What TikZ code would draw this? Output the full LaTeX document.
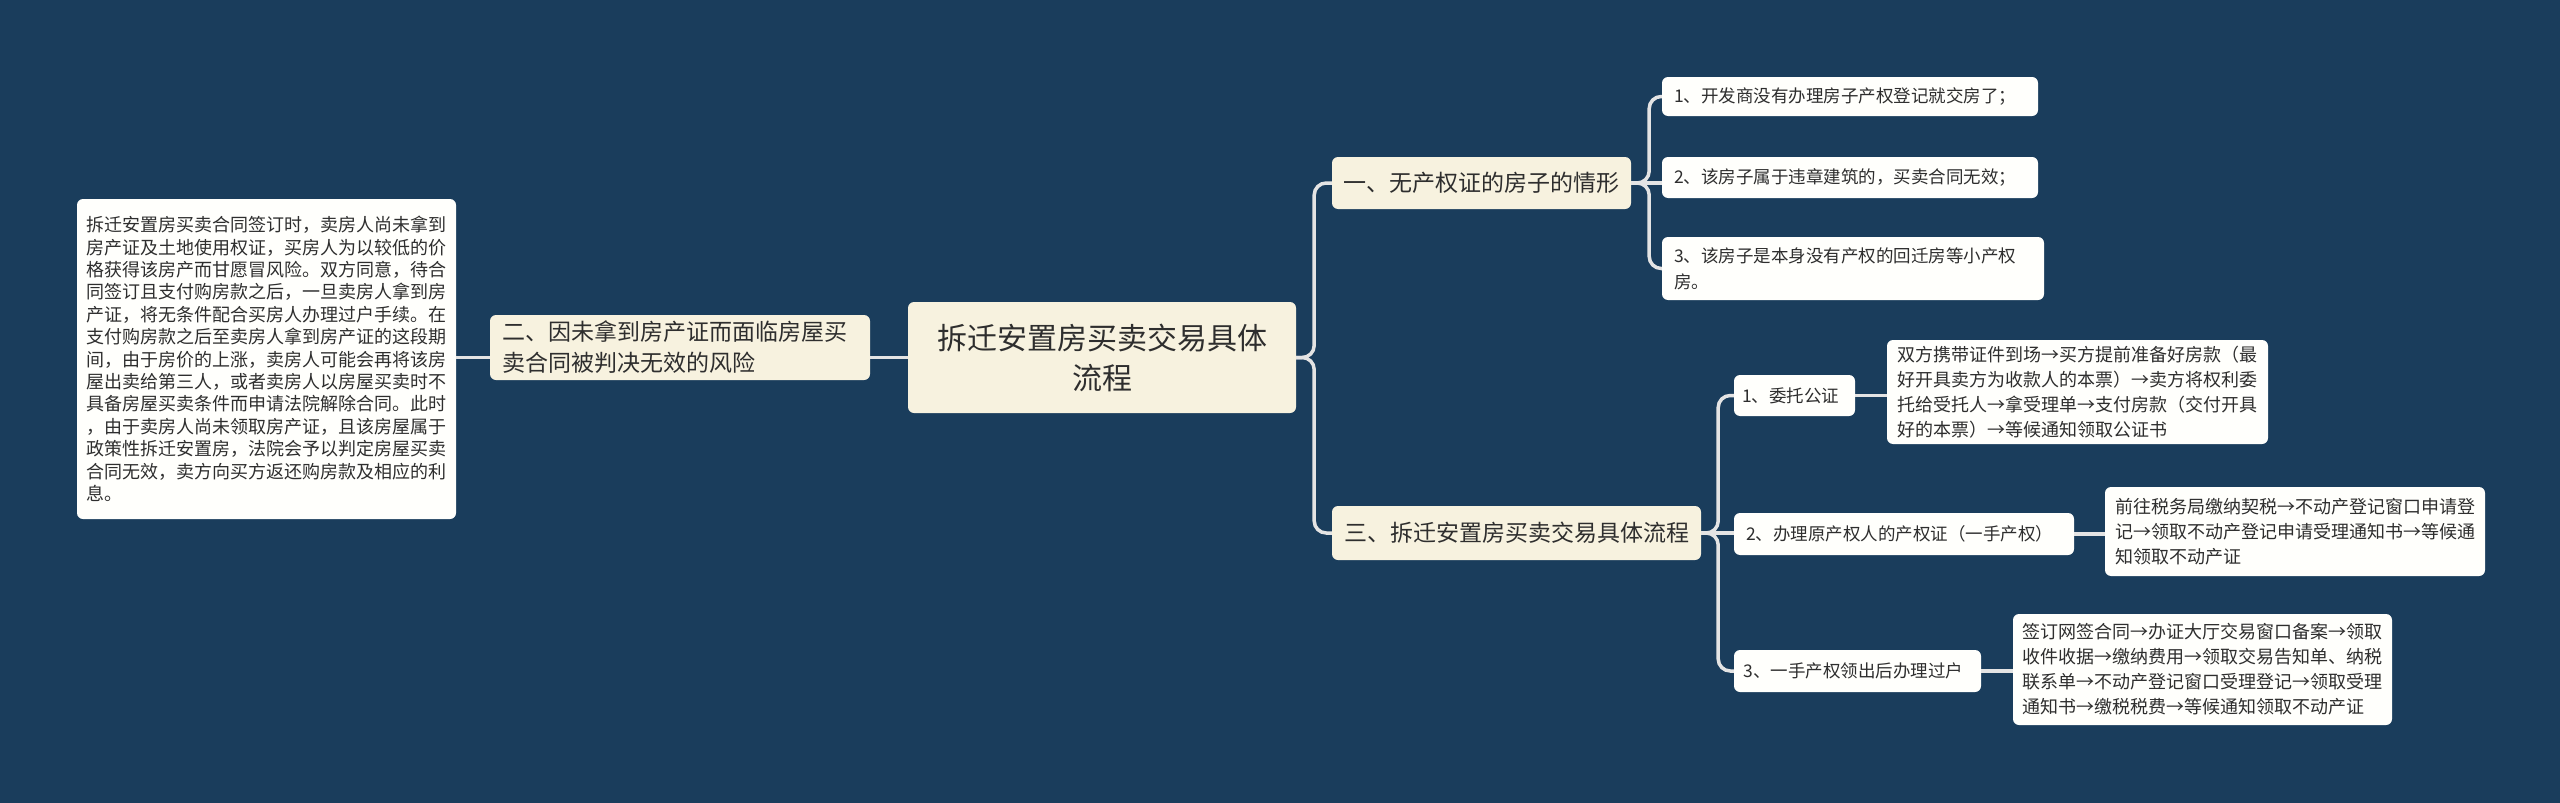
\documentclass[tikz,border=0pt]{standalone}
\usepackage{fontspec}
\setmainfont{Noto Sans CJK SC}
\definecolor{bg}{HTML}{1A3D5C}
\definecolor{cream}{HTML}{F7F2DF}
\definecolor{leafc}{HTML}{FFFFFC}
\definecolor{txt}{HTML}{2E2E2E}
\definecolor{linec}{HTML}{E4E4E4}
\tikzset{
  basebox/.style={rounded corners=6pt, text=txt, inner ysep=0pt, align=left},
  rootbox/.style={basebox, fill=cream, align=center, font=\fontsize{30}{40}\selectfont},
  midbox/.style={basebox, fill=cream, inner xsep=12pt, font=\fontsize{23}{31}\selectfont},
  itembox/.style={basebox, fill=leafc, inner xsep=12pt, font=\fontsize{17.5}{26}\selectfont},
  leafbox/.style={basebox, fill=leafc, inner xsep=10pt, font=\fontsize{18}{25}\selectfont},
  link/.style={draw=linec, line width=3.5pt, rounded corners=12pt}
}
\begin{document}
\begin{tikzpicture}[x=1pt,y=-1pt]
\fill[bg] (0,0) rectangle (2560,803);
\useasboundingbox (0,0) rectangle (2560,803);

% root
\node[rootbox, minimum width=388pt, minimum height=111pt] (root) at (1102,357.5) {拆迁安置房买卖交易具体\\流程};

% left branch
\node[midbox, text width=356pt, minimum height=65pt] (b) at (680,347.5) {二、因未拿到房产证而面临房屋买\\卖合同被判决无效的风险};
\node[leafbox, inner xsep=9pt, text width=361pt, minimum height=320pt, font=\fontsize{18}{22.4}\selectfont] (bl) at (266.5,359) {拆迁安置房买卖合同签订时，卖房人尚未拿到\\房产证及土地使用权证，买房人为以较低的价\\格获得该房产而甘愿冒风险。双方同意，待合\\同签订且支付购房款之后，一旦卖房人拿到房\\产证，将无条件配合买房人办理过户手续。在\\支付购房款之后至卖房人拿到房产证的这段期\\间，由于房价的上涨，卖房人可能会再将该房\\屋出卖给第三人，或者卖房人以房屋买卖时不\\具备房屋买卖条件而申请法院解除合同。此时\\，由于卖房人尚未领取房产证，且该房屋属于\\政策性拆迁安置房，法院会予以判定房屋买卖\\合同无效，卖方向买方返还购房款及相应的利\\息。};

% branch one
\node[midbox, inner xsep=11pt, text width=277pt, minimum height=52pt] (a) at (1481.5,183) {一、无产权证的房子的情形};
\node[itembox, text width=352pt, minimum height=39pt] (a1) at (1850,96.5) {1、开发商没有办理房子产权登记就交房了；};
\node[itembox, text width=352pt, minimum height=41pt] (a2) at (1850,177.5) {2、该房子属于违章建筑的，买卖合同无效；};
\node[itembox, text width=358pt, minimum height=63pt] (a3) at (1853,268.5) {3、该房子是本身没有产权的回迁房等小产权\\房。};

% branch three
\node[midbox, text width=345pt, minimum height=54pt] (c) at (1516.5,533) {三、拆迁安置房买卖交易具体流程};
\node[itembox, inner xsep=8pt, text width=105pt, minimum height=41pt] (c1) at (1794.5,395.5) {1、委托公证};
\node[itembox, text width=316pt, minimum height=42pt] (c2) at (1904,534) {2、办理原产权人的产权证（一手产权）};
\node[itembox, inner xsep=9.5pt, text width=228pt, minimum height=42pt] (c3) at (1857.5,671) {3、一手产权领出后办理过户};

\node[leafbox, text width=361pt, minimum height=104pt] (c1l) at (2077.5,392) {双方携带证件到场→买方提前准备好房款（最\\好开具卖方为收款人的本票）→卖方将权利委\\托给受托人→拿受理单→支付房款（交付开具\\好的本票）→等候通知领取公证书};
\node[leafbox, text width=360pt, minimum height=89pt] (c2l) at (2295,531.5) {前往税务局缴纳契税→不动产登记窗口申请登\\记→领取不动产登记申请受理通知书→等候通\\知领取不动产证};
\node[leafbox, inner xsep=9.5pt, text width=360pt, minimum height=111pt] (c3l) at (2202.5,669.5) {签订网签合同→办证大厅交易窗口备案→领取\\收件收据→缴纳费用→领取交易告知单、纳税\\联系单→不动产登记窗口受理登记→领取受理\\通知书→缴税税费→等候通知领取不动产证};

% connectors
\path[link] (root.east) -- ++(18,0) |- (a.west);
\path[link] (root.east) -- ++(18,0) |- (c.west);
\path[link] (root.west) -- (root.west -| b.east);
\path[link] (b.west |- root.west) -- (bl.east |- root.west);

\path[link] (a.east) -- ++(18,0) |- (a1.west);
\path[link] (a.east) -- (a.east -| a2.west);
\path[link] (a.east) -- ++(18,0) |- (a3.west);

\path[link] (c.east) -- ++(17,0) |- (c1.west);
\path[link] (c.east) -- (c.east -| c2.west);
\path[link] (c.east) -- ++(17,0) |- (c3.west);

\path[link] (c1.east) -- (c1.east -| c1l.west);
\path[link] (c2.east) -- (c2.east -| c2l.west);
\path[link] (c3.east) -- (c3.east -| c3l.west);
\end{tikzpicture}
\end{document}
